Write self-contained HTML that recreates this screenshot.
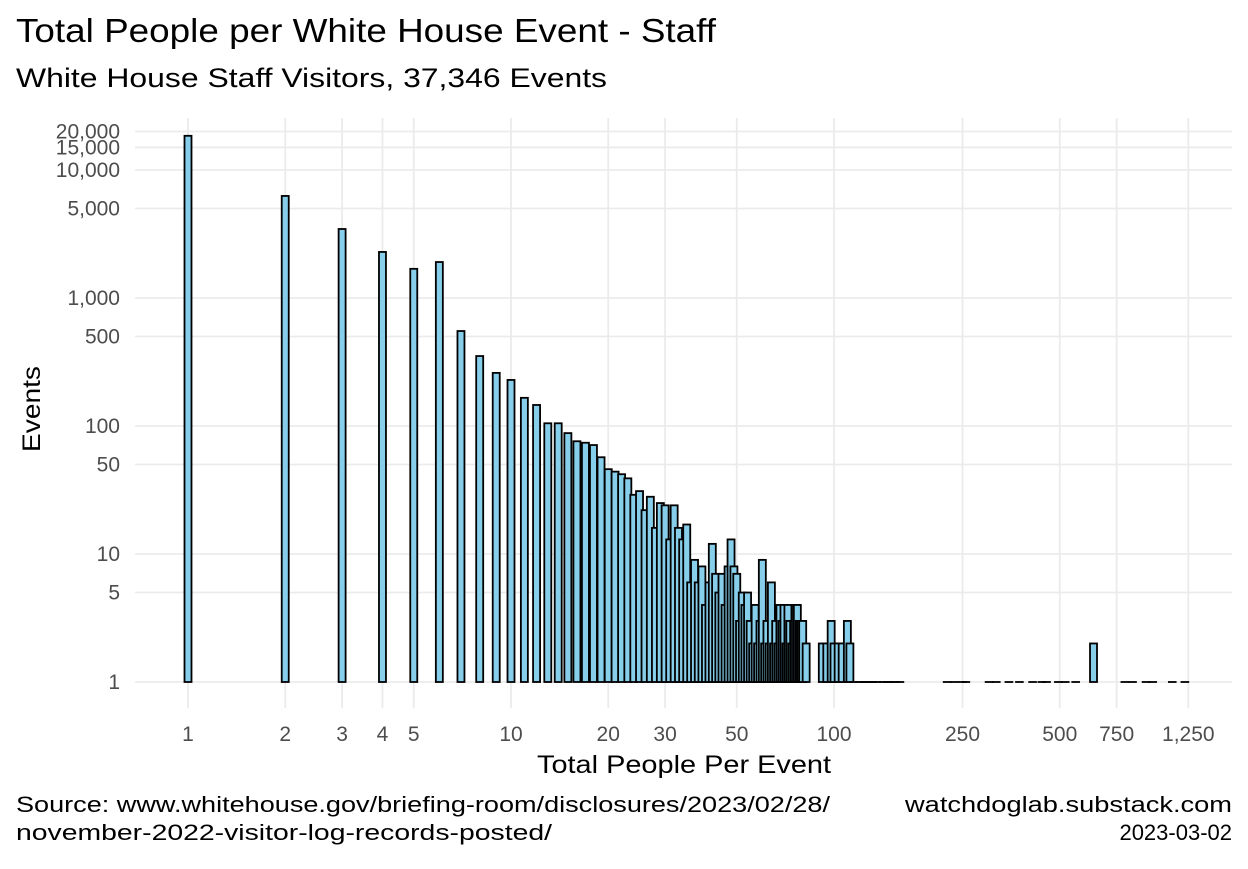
<!DOCTYPE html>
<html><head><meta charset="utf-8"><style>
body{margin:0;background:#fff;}
svg text{font-family:"Liberation Sans",Arial,sans-serif;}
</style></head><body>
<svg id="chart" width="1248" height="864" xmlns="http://www.w3.org/2000/svg">
<rect width="1248" height="864" fill="#fff"/>
<text x="16" y="42" font-size="33" textLength="700" lengthAdjust="spacingAndGlyphs" fill="#000">Total People per White House Event - Staff</text>
<text x="16" y="87" font-size="27" textLength="591" lengthAdjust="spacingAndGlyphs" fill="#000">White House Staff Visitors, 37,346 Events</text>
<g id="grid"></g>
<g id="bars"></g>
<g id="ticks"></g>
<text x="537" y="773" font-size="25" textLength="294" lengthAdjust="spacingAndGlyphs" fill="#000">Total People Per Event</text>
<text transform="translate(40,452) rotate(-90)" font-size="25" textLength="86" lengthAdjust="spacingAndGlyphs" fill="#000">Events</text>
<text x="16" y="812" font-size="22" textLength="814" lengthAdjust="spacingAndGlyphs" fill="#000">Source: www.whitehouse.gov/briefing-room/disclosures/2023/02/28/</text>
<text x="16" y="840" font-size="22" textLength="536" lengthAdjust="spacingAndGlyphs" fill="#000">november-2022-visitor-log-records-posted/</text>
<text x="905" y="812" font-size="22" textLength="327" lengthAdjust="spacingAndGlyphs" fill="#000">watchdoglab.substack.com</text>
<text x="1232" y="840" font-size="22" text-anchor="end" fill="#000">2023-03-02</text>
</svg>
<script>
const peoplePerEvent = [1,2,3,4,5,6,7,8,9,10,11,12,13,14,15,16,17,18,19,20,21,22,23,24,25,26,27,28,29,30,31,32,33,34,35,36,37,38,39,40,41,42,43,44,45,46,47,48,49,50,51,52,53,54,55,56,57,58,59,60,61,62,63,64,65,66,67,68,69,70,71,72,73,74,75,76,77,78,79,80,82,92,95,98,100,103,106,110,112,115,120,123,126,129,132,136,142,146,150,155,160,224,236,250,256,302,318,348,375,412,440,455,495,520,560,636,795,840,925,970,1115,1220];
const eventCounts = [18500,6270,3460,2290,1690,1910,552,352,260,229,166,146,105,105,88,76,74,71,57,46,44,42,39,29,31,22,28,16,25,24,13,24,16,13,17,6,9,6,8,4,6,12,7,5,7,4,8,13,8,7,3,5,4,5,3,2,4,2,3,9,2,3,2,6,2,3,2,4,3,4,2,4,3,2,3,4,4,3,3,3,2,2,2,3,2,2,2,3,2,1,1,1,1,1,1,1,1,1,1,1,1,1,1,1,1,1,1,1,1,1,1,1,1,1,1,2,1,1,1,1,1,1];
const xTickValues = [1,2,3,4,5,10,20,30,50,100,250,500,750,1250];
const xTickLabels = ["1","2","3","4","5","10","20","30","50","100","250","500","750","1,250"];
const yTickValues = [1,5,10,50,100,500,1000,5000,10000,15000,20000];
const yTickLabels = ["1","5","10","50","100","500","1,000","5,000","10,000","15,000","20,000"];

const NS="http://www.w3.org/2000/svg";
const xScale = v => 188 + 323*Math.log10(v);
const yScale = v => 682 - 128*Math.log10(v);
const grid=document.getElementById('grid'), bars=document.getElementById('bars'), ticks=document.getElementById('ticks');
function mk(tag,attrs,parent){const e=document.createElementNS(NS,tag);for(const k in attrs)e.setAttribute(k,attrs[k]);parent.appendChild(e);return e;}
yTickValues.forEach((v,i)=>{
  const l=mk('line',{x1:135,x2:1232,y1:yScale(v),y2:yScale(v),stroke:'#ebebeb','stroke-width':1.8},grid);
  
  
  const t=mk('text',{x:120,y:yScale(v)+7,'font-size':21,'text-anchor':'end',fill:'#4d4d4d'},ticks);
  t.textContent=yTickLabels[i];
  
  
});
xTickValues.forEach((v,i)=>{
  const l=mk('line',{x1:xScale(v),x2:xScale(v),y1:118,y2:708,stroke:'#ebebeb','stroke-width':1.8},grid);
  
  
  const t=mk('text',{x:xScale(v),y:741,'font-size':21,'text-anchor':'middle',fill:'#4d4d4d'},ticks);
  t.textContent=xTickLabels[i];
  
  
});
peoplePerEvent.forEach((n,i)=>{
  const c=eventCounts[i];
  const x=xScale(n)-3.5, y=yScale(c);
  const h=682-y;
  if(h<0.5){
    const d=mk('line',{x1:x-0.8,x2:x+7.8,y1:682,y2:682,stroke:'#000','stroke-width':1.8},bars);
    
    
  } else {
    const r=mk('rect',{x:x,y:y,width:7,height:h,fill:'#87ceeb',stroke:'#000','stroke-width':1.8},bars);
    
    
  }
});
</script>
</body></html>
